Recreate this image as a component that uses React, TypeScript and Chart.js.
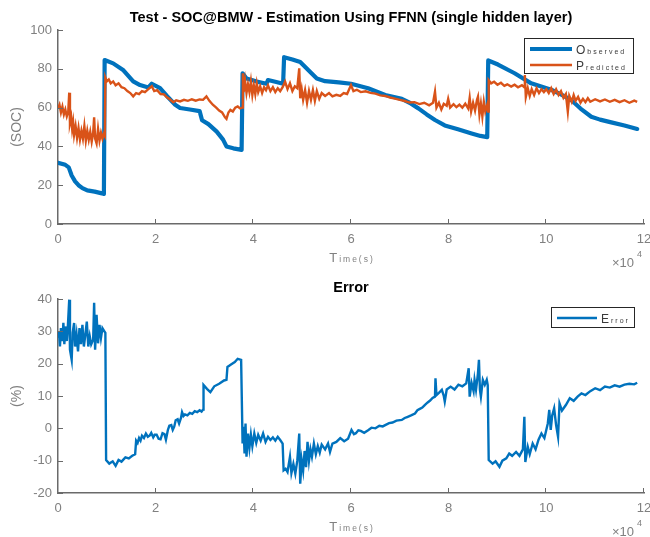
import React, { useEffect, useRef } from 'react';
import { Chart, registerables } from 'chart.js';
Chart.register(...registerables);

// ---------- DATA ----------
const obsTime = [
  0, 1500, 2200, 2800, 3500, 4200, 5000, 6000, 7500, 9000,
  9400, 9550, 11300, 13400, 15400, 16800, 18500, 19200, 20900, 22300,
  24000, 25000, 27000, 29000, 29500, 30800, 32500, 33800, 34500, 35900,
  37600, 37800, 38600, 40700, 42700, 43000, 44500, 46100, 46300, 48000,
  49600, 51600, 53000, 54700, 57500, 60000, 63500, 67000, 70400, 72000,
  73800, 75500, 77200, 79200, 81900, 84700, 86500, 87900, 88100, 90100,
  93500, 96900, 101000, 103000, 105100, 107000, 109200, 111000, 113300, 116000,
  118600,
];
const obsSOC = [
  31.5, 30.5, 29.2, 25, 22, 20, 18.5, 17.3, 16.7, 15.8,
  15.5, 84.5, 82.8, 79.2, 73.5, 71.6, 70.4, 72.3, 70, 66,
  61.5, 59.8, 59, 58.2, 53.5, 51.5, 47.6, 43.5, 40, 39,
  38.2, 77.7, 75, 73.4, 72.3, 74.2, 73.3, 72.3, 86, 84.8,
  83.5, 78.5, 75, 73.6, 73, 72.3, 70, 66.5, 64.5, 62.5,
  59.6, 56.5, 53.6, 50.8, 48.8, 46.7, 45.4, 44.8, 84.3, 82.2,
  77.7, 72.5, 69.2, 66.8, 63.9, 59.5, 55.3, 53.8, 52.4, 50.8,
  49,
];

const predTime = [
  0, 300, 600, 900, 1200, 1500, 1800, 2100, 2300, 2450,
  2700, 2900, 3100, 3300, 3600, 3900, 4200, 4500, 4800, 5100,
  5400, 5700, 6000, 6300, 6600, 6900, 7200, 7400, 7600, 7900,
  8200, 8500, 8800, 9100, 9400, 9600, 9700, 10000, 10400, 10800,
  11300, 11800, 12400, 13000, 13600, 14200, 14800, 15400, 16000, 16600,
  17200, 17800, 18500, 19200, 19700, 20300, 21000, 21700, 22300, 22900,
  23600, 24200, 25000, 25800, 26600, 27400, 28200, 29000, 29700, 30400,
  31000, 31700, 32400, 33000, 33600, 34200, 34500, 34900, 35300, 35800,
  36300, 36800, 37300, 37700, 37850, 38000, 38300, 38600, 38900, 39200,
  39500, 39800, 40100, 40400, 40700, 41000, 41400, 41800, 42200, 42600,
  43000, 43500, 44000, 44500, 45000, 45500, 46000, 46500, 47000, 47500,
  48000, 48500, 49000, 49400, 49600, 49900, 50200, 50600, 51000, 51400,
  51800, 52200, 52600, 53000, 53500, 54000, 54700, 55500, 56200, 57000,
  57800, 58500, 59200, 60000, 60500, 61200, 62000, 63000, 64000, 65000,
  66000, 67000, 68000, 69000, 70000, 71000, 72000, 73000, 74000, 75000,
  76000, 76800, 77200, 77500, 78000, 78500, 79000, 79600, 79900, 80300,
  81000, 81600, 82200, 82800, 83400, 84000, 84300, 84600, 85000, 85400,
  85800, 86000, 86300, 86600, 86900, 87200, 87500, 87900, 88100, 88200,
  88700, 89300, 90000, 90700, 91400, 92000, 92800, 93500, 94200, 95000,
  95500, 95600, 95800, 96200, 96600, 97000, 97500, 98000, 98500, 99000,
  99500, 100000, 100500, 101000, 101500, 102000, 102500, 103000, 103500, 104000,
  104400, 104700, 105200, 105600, 106000, 106500, 107000, 107500, 108000, 108500,
  109000, 110000, 111000, 112000, 113000, 114000, 115000, 116000, 117000, 118000,
  118600,
];
const predSOC = [
  59.6, 61.5, 57.5, 60.5, 56.5, 59, 55.5, 58, 67.7, 52,
  55, 49, 52.5, 46, 50.5, 44.5, 49.5, 43.5, 48, 44,
  50.5, 43, 48, 43.5, 47.5, 42.5, 47, 55, 44, 41.5,
  49, 43, 47, 44, 46.5, 45.5, 75.5, 73.5, 74.5, 72.5,
  73.5, 71.5, 72.5, 70.5, 70, 68.5, 67.5, 65.8, 67.5, 67,
  68.5, 68, 69.5, 71, 68.5, 69, 67, 66.8, 65.3, 64.3,
  62.8, 63.8, 63.2, 64, 63.5, 64.3, 63.6, 64.2, 64, 65.8,
  63.5, 61.5, 60, 58.5, 57.5, 55, 54.2, 57.5, 58.8, 58,
  60, 60.6, 59.6, 60, 77.7, 68, 74, 67.5, 72, 68,
  73.5, 66.5, 71.5, 67, 72.5, 68, 71, 67.5, 70.5, 69,
  71.5, 68.5, 70.5, 68, 70, 68.5, 70.5, 73.4, 69.5, 72.5,
  68.5, 71, 70, 80.2, 64.8, 69.5, 64, 69, 62.5, 68.5,
  64, 69, 63.5, 68.5, 64.5, 67.5, 66, 67.5, 65.8, 66.6,
  66, 67.5, 67, 71.6, 68.5, 69.2, 68, 68.4, 67.6, 67.2,
  66.3, 66, 65.2, 64.6, 64, 63.4, 62.6, 62.8, 61.8, 62.5,
  61.2, 62.5, 68.2, 60, 62.5, 59, 62, 61, 64.5, 60,
  61.8, 60.2, 61.5, 60, 62, 59.5, 65, 58, 62.5, 58.5,
  64, 65.6, 56.5, 62, 55.5, 63, 58, 61.5, 58, 74.2,
  72.5, 73.3, 71.8, 72.8, 71.2, 72, 70.8, 71.8, 70.5, 71.6,
  70.5, 76.8, 65.5, 70, 66, 69.5, 66.5, 70, 67.5, 69.5,
  68, 69.5, 67.5, 70, 67, 69.4, 66.5, 68.5, 65, 67,
  57.9, 66, 63, 66.5, 63.5, 65.5, 62.5, 64.5, 62.8, 64.8,
  63, 64.3, 63.2, 64.2, 63, 64, 62.8, 63.8, 62.5, 63.6,
  63,
];

const errTime = [
  0, 200, 400, 600, 900, 1100, 1300, 1500, 1800, 2000,
  2300, 2450, 2800, 3000, 3300, 3500, 3800, 4100, 4400, 4700,
  5000, 5300, 5600, 5900, 6200, 6500, 6800, 7200, 7400, 7600,
  7900, 8200, 8500, 8800, 9100, 9500, 9700, 9850, 10500, 11200,
  11800, 12400, 13000, 13800, 14500, 15200, 15800, 16000, 16300, 16600,
  16900, 17200, 17600, 18000, 18400, 18800, 19100, 19500, 19800, 20200,
  20600, 21000, 21400, 21800, 22100, 22500, 22800, 23200, 23500, 23800,
  24100, 24500, 24800, 25200, 25400, 25700, 26000, 26500, 27000, 27500,
  28000, 28500, 29000, 29400, 29700, 29800, 30500, 31200, 32000, 33000,
  34000, 34500, 34700, 35500, 36200, 36800, 37500, 37800, 38000, 38200,
  38400, 38600, 38900, 39200, 39500, 39800, 40200, 40600, 41000, 41500,
  42000, 42500, 43000, 43500, 44000, 44500, 45000, 45500, 46000, 46200,
  46600, 47000, 47500, 47800, 48200, 48600, 49000, 49400, 49600, 49900,
  50200, 50500, 50800, 51100, 51400, 51700, 52000, 52400, 52800, 53200,
  53600, 54000, 54700, 55300, 55700, 56200, 57000, 57800, 58600, 59400,
  60100, 60600, 61000, 61500, 62000, 62700, 63500, 64200, 65000, 65800,
  66500, 67000, 67800, 68500, 69300, 70400, 71000, 71500, 72300, 73100,
  73600, 74100, 74600, 75100, 75700, 76200, 76700, 77200, 77300, 77500,
  78000, 78600, 79000, 79200, 79600, 80400, 81200, 82000, 82800, 83600,
  84100, 84300, 84700, 85100, 85300, 85600, 86000, 86200, 86400, 86600,
  87000, 87400, 87800, 88000, 88200, 89000, 89600, 90400, 91000, 91800,
  92400, 93000, 93800, 94500, 95200, 95500, 95700, 96200, 96600, 97200,
  97800, 98400, 99000, 99600, 100300, 100600, 100900, 101200, 101600, 102000,
  102400, 102700, 103200, 104000, 104800, 105600, 106400, 107200, 108000, 109000,
  110000, 111000, 112000, 113000, 114000, 115000, 116000, 117000, 118000, 118600,
];
const errValue = [
  28.4, 30, 25.3, 31, 27, 32.6, 26, 31.5, 27, 31,
  39.8, 24.3, 21.2, 29.5, 32.6, 25.3, 29, 23.8, 31, 26,
  32, 25.3, 29, 33, 25.3, 28.5, 26, 27.4, 38.8, 24.3,
  35.1, 26.3, 32, 28, 31, 30, 29.5, -9.8, -10.9, -10.2,
  -11.6, -9.8, -10.3, -9, -9.3, -8.5, -8, -3.8, -4.5, -3,
  -3.8, -2.3, -3, -1.6, -2.6, -2.2, -1.4, -2.8, -2, -2,
  -3.2, -3.4, -1.5, -1.8, -3.5, -0.5, 0.8, 1, -0.5, 0.5,
  2.5, 2.8, 1.5, 3.3, 5, 3.8, 4.3, 4, 4.8, 4.5,
  5.3, 5, 5.6, 5.2, 5.8, 13.4, 12.2, 11.2, 13, 13.8,
  14.8, 15, 19, 19.8, 20.5, 21.5, 21.2, -4.7, 0.5, -7.8,
  1.5, -8.8, -1.6, -6, -2, -5.5, -1.6, -4.5, -2, -3.8,
  -1.6, -4.2, -2.6, -3.6, -2.8, -3.8, -2.6, -3.6, -4.7, -13,
  -12.5, -13.5, -8.8, -13.8, -11, -14, -10, -1.6, -17.1, -9.8,
  -13, -7, -12, -4.2, -10, -6.5, -8.8, -4.7, -8, -5.5,
  -7.5, -5, -6.5, -4.7, -7.3, -4.7, -4.2, -3, -4, -3.2,
  -0.5, -1.8, -1.5, -0.6, -0.8, -1.4, -0.6, 0.2, 0, 0.8,
  0.6, 1, 1.6, 1.8, 2.4, 2.6, 3.2, 3.5, 4, 4.6,
  5.6, 6, 6.4, 7.2, 8, 8.6, 9.4, 9.8, 15.5, 10.3,
  11, 11.9, 10, 8.3, 12, 12.9, 12, 13.5, 13, 13.9,
  18.6, 9.8, 14, 11.5, 15, 12, 17, 21.2, 12, 9.8,
  15, 13.5, 15, 13.4, -9.8, -10.9, -10.2, -11.9, -10, -9.3,
  -7.8, -8.5, -7.3, -8.5, -6.5, 3.6, -10.4, -5.7, -8, -4.7,
  -6.5, -3.5, -1.6, -3, 1.5, 5.7, -0.5, 4, 6.2, 1,
  -2.6, 7.7, 5.5, 7.2, 9.3, 8.5, 9.8, 10.8, 10.3, 11.5,
  12.4, 11.8, 12.9, 12.6, 13.3, 12.9, 13.5, 13.8, 13.6, 14.1,
];

const xMin = 0;
const xMax = 120000;
const xStep = 20000;
const xLabel = 'Time(s)';
const title1 = 'Test - SOC@BMW - Estimation Using FFNN (single hidden layer)';
const title2 = 'Error';

// ---------- STYLE ----------
const FONT = '"Liberation Sans", Arial, Helvetica, sans-serif';
const BLUE = '#0072BD';
const ORANGE = '#D95319';
const TICK_COLOR = '#808080';
const AXIS_COLOR = '#6a6a6a';
const LEGEND_TEXT = '#3a3a3a';

function toPoints(xs: number[], ys: number[]) {
  const n = Math.min(xs.length, ys.length);
  const out: { x: number; y: number }[] = [];
  for (let i = 0; i < n; i++) out.push({ x: xs[i], y: ys[i] });
  return out;
}

function fancyWidth(ctx: CanvasRenderingContext2D, text: string, big: number, small: number, sp: number) {
  ctx.font = `${big}px ${FONT}`;
  let w = ctx.measureText(text[0]).width + sp;
  ctx.font = `${small}px ${FONT}`;
  for (const ch of text.slice(1)) w += ctx.measureText(ch).width + sp;
  return w - sp;
}

function drawFancy(ctx: CanvasRenderingContext2D, text: string, x: number, baseline: number, big: number, small: number, sp: number, color: string) {
  ctx.fillStyle = color;
  ctx.textAlign = 'left';
  ctx.textBaseline = 'alphabetic';
  let cx = x;
  ctx.font = `${big}px ${FONT}`;
  ctx.fillText(text[0], cx, baseline);
  cx += ctx.measureText(text[0]).width + sp;
  ctx.font = `${small}px ${FONT}`;
  for (const ch of text.slice(1)) {
    ctx.fillText(ch, cx, baseline);
    cx += ctx.measureText(ch).width + sp;
  }
}

const decorPlugin = {
  id: 'matlabDecor',
  afterDraw(chart: any, _args: any, opts: any) {
    const ctx: CanvasRenderingContext2D = chart.ctx;
    const { left, right, top, bottom } = chart.chartArea;
    const xs = chart.scales.x;
    const ys = chart.scales.y;
    ctx.save();
    // inward ticks
    ctx.strokeStyle = AXIS_COLOR;
    ctx.lineWidth = 1;
    xs.ticks.forEach((t: any) => {
      const px = Math.round(xs.getPixelForValue(t.value)) - 0.5;
      ctx.beginPath();
      ctx.moveTo(px, bottom);
      ctx.lineTo(px, bottom - 5);
      ctx.stroke();
    });
    ys.ticks.forEach((t: any) => {
      const py = Math.round(ys.getPixelForValue(t.value)) + 0.5;
      ctx.beginPath();
      ctx.moveTo(left, py);
      ctx.lineTo(left + 5, py);
      ctx.stroke();
    });
    // title
    ctx.fillStyle = '#000';
    ctx.font = `bold 14.5px ${FONT}`;
    ctx.textAlign = 'center';
    ctx.textBaseline = 'middle';
    ctx.fillText(opts.title, (left + right) / 2, opts.titleY);
    // x axis label
    const w = fancyWidth(ctx, xLabel, 13, 8.5, 2);
    drawFancy(ctx, xLabel, (left + right) / 2 - w / 2, bottom + 38, 13, 8.5, 2, TICK_COLOR);
    // exponent
    ctx.fillStyle = TICK_COLOR;
    ctx.textAlign = 'left';
    ctx.textBaseline = 'alphabetic';
    ctx.font = `13px ${FONT}`;
    ctx.fillText('\u00d710', right - 32, bottom + 43);
    ctx.font = `9px ${FONT}`;
    ctx.fillText('4', right - 7, bottom + 33);
    // legend
    const lg = opts.legend;
    const bx = right - lg.insetRight - lg.width;
    const by = top + lg.insetTop;
    ctx.fillStyle = '#fff';
    ctx.fillRect(bx, by, lg.width, lg.height);
    ctx.strokeStyle = '#262626';
    ctx.lineWidth = 1;
    ctx.strokeRect(Math.round(bx) + 0.5, Math.round(by) + 0.5, lg.width, lg.height);
    lg.items.forEach((it: any, i: number) => {
      const cy = by + lg.firstY + i * lg.rowGap;
      ctx.strokeStyle = it.color;
      ctx.lineWidth = it.width;
      ctx.beginPath();
      ctx.moveTo(bx + 6, cy);
      ctx.lineTo(bx + 6 + lg.lineLen, cy);
      ctx.stroke();
      drawFancy(ctx, it.label, bx + 6 + lg.lineLen + 4, cy + 4.5, 12, 7, 2, LEGEND_TEXT);
    });
    ctx.restore();
  },
};

function zeroPad(s: any) {
  s.paddingLeft = 0;
  s.paddingRight = 0;
  s.paddingTop = 0;
  s.paddingBottom = 0;
}

function makeConfig(kind: 'top' | 'bottom'): any {
  const isTop = kind === 'top';
  const datasets = isTop
    ? [
        {
          label: 'Observed',
          data: toPoints(obsTime, obsSOC),
          borderColor: BLUE,
          borderWidth: 4.2,
          pointRadius: 0,
          borderJoinStyle: 'round',
          borderCapStyle: 'round',
          tension: 0,
          order: 1,
        },
        {
          label: 'Predicted',
          data: toPoints(predTime, predSOC),
          borderColor: ORANGE,
          borderWidth: 2.4,
          pointRadius: 0,
          tension: 0,
          order: 0,
        },
      ]
    : [
        {
          label: 'Error',
          data: toPoints(errTime, errValue),
          borderColor: BLUE,
          borderWidth: 2.4,
          pointRadius: 0,
          tension: 0,
        },
      ];
  const tickFont = { family: FONT, size: 13 };
  return {
    type: 'line',
    data: { datasets },
    options: {
      responsive: false,
      animation: false,
      devicePixelRatio: 1,
      layout: { padding: { top: isTop ? 30 : 31, right: 6, bottom: 0, left: 0 } },
      plugins: {
        legend: { display: false },
        title: { display: false },
        tooltip: { enabled: false },
        matlabDecor: isTop
          ? {
              title: title1,
              titleY: 18,
              legend: {
                width: 109,
                height: 35,
                insetRight: 11,
                insetTop: 8,
                firstY: 11,
                rowGap: 16,
                lineLen: 42,
                items: [
                  { label: 'Observed', color: BLUE, width: 4.2 },
                  { label: 'Predicted', color: ORANGE, width: 2.4 },
                ],
              },
            }
          : {
              title: title2,
              titleY: 20,
              legend: {
                width: 83,
                height: 20,
                insetRight: 10,
                insetTop: 8,
                firstY: 11,
                rowGap: 16,
                lineLen: 40,
                items: [{ label: 'Error', color: BLUE, width: 2.4 }],
              },
            },
      },
      scales: {
        x: {
          type: 'linear',
          min: xMin,
          max: xMax,
          ticks: {
            stepSize: xStep,
            autoSkip: false,
            maxRotation: 0,
            padding: 8,
            color: TICK_COLOR,
            font: tickFont,
            callback: (v: number) => String(v / 10000),
          },
          grid: { display: true, drawOnChartArea: false, drawTicks: false },
          border: { display: true, color: AXIS_COLOR, width: 1.5 },
          afterFit: (s: any) => {
            s.height = 44;
            zeroPad(s);
          },
        },
        y: {
          type: 'linear',
          min: isTop ? 0 : -20,
          max: isTop ? 100 : 40,
          ticks: {
            stepSize: isTop ? 20 : 10,
            padding: 6,
            color: TICK_COLOR,
            font: tickFont,
            callback: (v: number) => String(v),
          },
          title: {
            display: true,
            text: isTop ? '(SOC)' : '(%)',
            color: TICK_COLOR,
            font: { family: FONT, size: 14 },
            padding: { top: 9, bottom: 0 },
          },
          grid: { display: true, drawOnChartArea: false, drawTicks: false },
          border: { display: true, color: AXIS_COLOR, width: 1.5 },
          afterFit: (s: any) => {
            s.width = 58;
            zeroPad(s);
          },
        },
      },
    },
    plugins: [decorPlugin],
  };
}

export default function App() {
  const r1 = useRef<HTMLCanvasElement>(null);
  const r2 = useRef<HTMLCanvasElement>(null);
  useEffect(() => {
    const c1 = new Chart(r1.current as HTMLCanvasElement, makeConfig('top'));
    const c2 = new Chart(r2.current as HTMLCanvasElement, makeConfig('bottom'));
    return () => {
      c1.destroy();
      c2.destroy();
    };
  }, []);
  return (
    <div style={{ position: 'absolute', left: 0, top: 0, width: 650, height: 537, background: '#fff' }}>
      <canvas ref={r1} width={650} height={268} style={{ position: 'absolute', left: 0, top: 0 }} />
      <canvas ref={r2} width={650} height={269} style={{ position: 'absolute', left: 0, top: 268 }} />
    </div>
  );
}
